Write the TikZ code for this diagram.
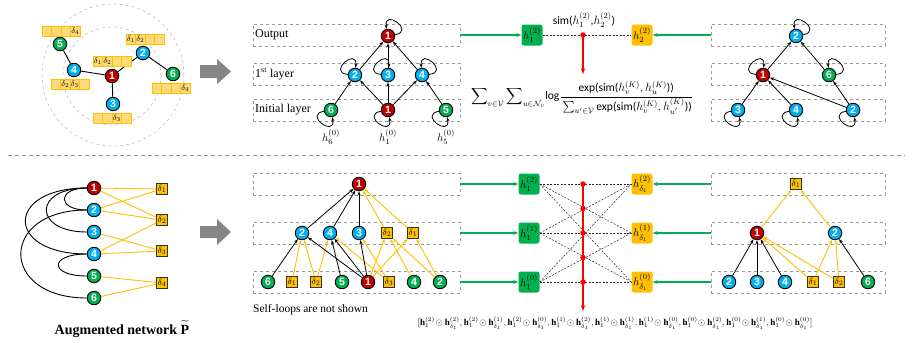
\documentclass[tikz,border=0pt]{standalone}
\usepackage{amsmath,amssymb}
\usepackage{fontspec}
\setmainfont{Liberation Serif}
\newfontfamily\numfont{Liberation Sans}
\newfontfamily\calfont{Carlito}
\usetikzlibrary{arrows.meta}
\definecolor{cred}{HTML}{C00000}
\definecolor{cblue}{HTML}{00B0F0}
\definecolor{cgreen}{HTML}{00B050}
\definecolor{cyel}{HTML}{FFC000}
\definecolor{cbarf}{HTML}{FFD97A}
\newcommand\fbar[7]{%
 \node[cell] (#1a) at (#2+4.75,#3+5) {#4};
 \node[cell] (#1b) at (#2+14.25,#3+5) {#5};
 \node[cell] (#1c) at (#2+23.75,#3+5) {#6};
 \node[cell] (#1d) at (#2+33.25,#3+5) {#7};}
\newcommand\lpp[3]{\draw[bk] (#1.#2) .. controls +(#2:21pt) and +(#3:21pt) .. (#1.#3);}
\begin{document}
\begin{tikzpicture}[x=1pt,y=-1pt,
 nd/.style={circle,draw=black,line width=0.9pt,minimum size=13.5pt,inner sep=0pt,text=white,font=\numfont\bfseries\fontsize{10.5}{10.5}\selectfont},
 rn/.style={nd,fill=cred}, bn/.style={nd,fill=cblue}, gn/.style={nd,fill=cgreen},
 dn/.style={rectangle,draw=black!80,line width=0.8pt,fill=cyel,minimum size=11pt,inner sep=0pt,font=\fontsize{9.5}{9.5}\selectfont},
 lyr/.style={draw=black!40,dashed,line width=0.6pt,minimum height=22pt,inner sep=0pt},
 lyrW/.style={lyr,minimum width=207pt},
 lyrN/.style={lyr,minimum width=174pt},
 bk/.style={-{Stealth[length=4.5pt,width=3.2pt]},line width=0.8pt,black},
 yl/.style={-{Stealth[length=4.5pt,width=3.2pt]},line width=0.9pt,cyel},
 gar/.style={-{Stealth[length=5pt,width=4pt]},line width=1.4pt,cgreen},
 rar/.style={-{Stealth[length=6pt,width=4.5pt]},line width=1.3pt,red},
 dline/.style={black!85,line width=0.5pt,dash pattern=on 2pt off 1.5pt},
 hbox/.style={rounded corners=2.5pt,minimum width=21pt,minimum height=21pt,inner sep=0pt,font=\fontsize{11}{11}\selectfont},
 cell/.style={draw=cyel,fill=cbarf,line width=0.6pt,minimum width=9.5pt,minimum height=10pt,inner sep=0pt,font=\fontsize{8.5}{8.5}\selectfont},
 lab/.style={font=\fontsize{12}{14}\selectfont,anchor=west,inner sep=1pt},
 ln/.style={line width=0.9pt,black},
 yln/.style={line width=0.9pt,cyel},
 rdot/.style={circle,fill=red,inner sep=0pt,minimum size=5.5pt},
 hl/.style={font=\fontsize{11}{13}\selectfont},
]
\useasboundingbox (0,0) rectangle (915,343);
% separator
\coordinate (sepL) at (8,155); \coordinate (sepR) at (905,155);
\draw[gray!80,line width=1pt,dash pattern=on 4pt off 3pt] (sepL) -- (sepR);
% gray block arrows
\fill[gray!95] (200,65) -- (217,65) -- (217,59) -- (231,71.5) -- (217,84) -- (217,78) -- (200,78) -- cycle;
\fill[gray!95] (200,226) -- (217,226) -- (217,219) -- (231,232) -- (217,245) -- (217,238) -- (200,238) -- cycle;

% ---------- top-left ----------
\draw[gray!60,dashed,line width=0.5pt] (113,75) circle (71pt);
\draw[gray!60,dashed,line width=0.5pt] (112,76) circle (49pt);
\node[rn] (a1) at (112,76) {1};
\node[bn] (a2) at (143,53) {2};
\node[bn] (a3) at (113,104) {3};
\node[bn] (a4) at (74,70) {4};
\node[gn] (a5) at (60,44) {5};
\node[gn] (a6) at (173,74) {6};
\draw[ln] (a1)--(a2) (a1)--(a3) (a1)--(a4) (a4)--(a5) (a2)--(a6);
\fbar{b5}{42}{26}{}{}{}{$\delta_4$}
\fbar{b2}{126}{34}{$\delta_1$}{$\delta_2$}{}{}
\fbar{b1}{93}{56}{$\delta_1$}{$\delta_2$}{}{}
\fbar{b4}{51}{79}{}{$\delta_2$}{$\delta_3$}{}
\fbar{b6}{152}{83}{}{}{}{$\delta_4$}
\fbar{b3}{93}{113}{}{}{$\delta_3$}{}

% ---------- top-middle ----------
\node[lyrW] (mr1) at (356.5,35) {};
\node[lyrW] (mr2) at (356.5,74) {};
\node[lyrW] (mr3) at (356.5,110) {};
\node[lab] (tOut) at (254,35) {Output};
\node[lab] (t1st) at (254,74) {1$^{\text{st}}$ layer};
\node[lab] (tIni) at (254,110) {Initial layer};
\node[rn] (mO1) at (388,36) {1};
\node[bn] (mL2) at (355,75) {2};
\node[bn] (mL3) at (388,75) {3};
\node[bn] (mL4) at (422,75) {4};
\node[gn] (mI6) at (331,110) {6};
\node[rn] (mI1) at (388,110) {1};
\node[gn] (mI5) at (446,110) {5};
\draw[bk] (mL2)--(mO1);
\draw[bk] (mL3)--(mO1);
\draw[bk] (mL4)--(mO1);
\draw[bk] (mI6)--(mL2);
\draw[bk] (mI1)--(mL2);
\draw[bk] (mI1)--(mL3);
\draw[bk] (mI1)--(mL4);
\draw[bk] (mI5)--(mL4);
\lpp{mO1}{10}{100}
\lpp{mL2}{175}{85}
\lpp{mL3}{175}{85}
\lpp{mL4}{5}{95}
\lpp{mI6}{190}{280}
\lpp{mI1}{190}{280}
\lpp{mI5}{190}{280}
\node[hl] (h6) at (331,137) {$h_6^{(0)}$};
\node[hl] (h1) at (388,137) {$h_1^{(0)}$};
\node[hl] (h5) at (446,137) {$h_5^{(0)}$};

% ---------- top-center ----------
\node[hbox,fill=cgreen] (tg) at (532,35) {$h_1^{(2)}$};
\node[hbox,fill=cyel] (tor) at (642,35) {$h_2^{(2)}$};
\draw[dline] (tg)--(tor);
\draw[gar] (mr1.east)--(tg);
\node[rdot] (tdot) at (583,35) {};
\coordinate (tend) at (583,74);
\draw[rar] (tdot.center)--(tend);
\node[font=\calfont\fontsize{11.5}{13}\selectfont] (simlab) at (584,20) {sim($h_1^{(2)}$,$h_2^{(2)}$)};
\node[font=\fontsize{11.5}{13}\selectfont] (obj) at (582,98)
 {$\displaystyle\sum\nolimits_{v\in\mathcal{V}}\sum\nolimits_{u\in\mathcal{N}_v}\!\text{\calfont log}\frac{\text{\calfont exp(sim(}h_v^{(K)},h_u^{(K)}\text{\calfont ))}\rule[-3pt]{0pt}{3pt}}{\rule{0pt}{12pt}\textstyle\sum_{u'\in\mathcal{V}}\text{\calfont exp(sim(}h_v^{(K)},h_{u'}^{(K)}\text{\calfont ))}}$};

% ---------- top-right ----------
\node[lyrN] (rr1) at (798,35) {};
\node[lyrN] (rr2) at (798,74) {};
\node[lyrN] (rr3) at (798,110) {};
\draw[gar] (rr1.west)--(tor);
\node[bn] (rT2) at (796,36) {2};
\node[rn] (rL1) at (763,75) {1};
\node[gn] (rL6) at (829,75) {6};
\node[bn] (rB3) at (738,110) {3};
\node[bn] (rB4) at (796,110) {4};
\node[bn] (rB2) at (853,110) {2};
\draw[bk] (rL1)--(rT2);
\draw[bk] (rL6)--(rT2);
\draw[bk] (rB3)--(rL1);
\draw[bk] (rB4)--(rL1);
\draw[bk] (rB2)--(rL1);
\draw[bk] (rB2)--(rL6);
\lpp{rT2}{10}{100}
\lpp{rL1}{175}{85}
\lpp{rL6}{5}{95}
\lpp{rB3}{190}{280}
\lpp{rB4}{190}{280}
\lpp{rB2}{190}{280}

% ---------- bottom-left ----------
\node[rn] (c1) at (94,188) {1};
\node[bn] (c2) at (94,210) {2};
\node[bn] (c3) at (94,232) {3};
\node[bn] (c4) at (94,254) {4};
\node[gn] (c5) at (94,276) {5};
\node[gn] (c6) at (94,298) {6};
\node[dn] (e1) at (162,189) {$\delta_1$};
\node[dn] (e2) at (162,220) {$\delta_2$};
\node[dn] (e3) at (162,251) {$\delta_3$};
\node[dn] (e4) at (162,283) {$\delta_4$};
\draw[yln] (c1)--(e1) (c1)--(e2) (c2)--(e1) (c2)--(e2) (c3)--(e3) (c4)--(e2) (c4)--(e3) (c5)--(e4) (c6)--(e4);
\draw[ln] (c1.west) to[out=180,in=180,distance=30pt] (c2.west);
\draw[ln] (c1.west) to[out=180,in=180,distance=54pt] (c3.west);
\draw[ln] (c1.west) to[out=180,in=180,distance=82pt] (c4.west);
\draw[ln] (c2.west) to[out=180,in=180,distance=88pt] (c6.west);
\draw[ln] (c4.west) to[out=180,in=180,distance=38pt] (c5.west);
\node[font=\bfseries\fontsize{14}{16}\selectfont] (aug) at (122,329) {Augmented network $\widetilde{\mathbf{P}}$};

% ---------- bottom-middle ----------
\node[lyrW] (qr1) at (356.5,184) {};
\node[lyrW] (qr2) at (356.5,233) {};
\node[lyrW] (qr3) at (356.5,282) {};
\node[rn] (qT1) at (359,184) {1};
\node[bn] (qM2) at (302,233) {2};
\node[bn] (qM4) at (330,233) {4};
\node[bn] (qM3) at (359,233) {3};
\node[dn] (qMd2) at (387,233) {$\delta_2$};
\node[dn] (qMd1) at (413,233) {$\delta_1$};
\node[gn] (qB6) at (268,282) {6};
\node[dn] (qBd1) at (292,282) {$\delta_1$};
\node[dn] (qBd2) at (316,282) {$\delta_2$};
\node[gn] (qB5) at (342,282) {5};
\node[rn] (qB1) at (368,282) {1};
\node[dn] (qBd3) at (389,282) {$\delta_3$};
\node[gn] (qB4) at (414,282) {4};
\node[gn] (qB2) at (440,282) {2};
\draw[bk] (qM2)--(qT1);
\draw[bk] (qM4)--(qT1);
\draw[bk] (qM3)--(qT1);
\draw[yl] (qMd2)--(qT1);
\draw[yl] (qMd1)--(qT1);
\draw[yl] (qBd1)--(qM2);
\draw[yl] (qBd2)--(qM2);
\draw[yl] (qBd2)--(qM4);
\draw[yl] (qBd3)--(qM4);
\draw[yl] (qBd3)--(qM3);
\draw[yl] (qB1)--(qMd2);
\draw[yl] (qB1)--(qMd1);
\draw[yl] (qB4)--(qMd2);
\draw[yl] (qB2)--(qMd2);
\draw[yl] (qB2)--(qMd1);
\draw[bk] (qB6)--(qM2);
\draw[bk] (qB5)--(qM4);
\draw[bk] (qB1)--(qM2);
\draw[bk] (qB1)--(qM4);
\draw[bk] (qB1)--(qM3);
\node[font=\fontsize{11.5}{13}\selectfont,anchor=west,inner sep=0pt] (slns) at (253,310) {Self-loops are not shown};

% ---------- bottom-center ----------
\node[hbox,fill=cgreen] (g2) at (529,184) {$h_1^{(2)}$};
\node[hbox,fill=cgreen] (g1) at (529,233) {$h_1^{(1)}$};
\node[hbox,fill=cgreen] (g0) at (529,282) {$h_1^{(0)}$};
\node[hbox,fill=cyel] (o2) at (642,184) {$h_{\delta_1}^{(2)}$};
\node[hbox,fill=cyel] (o1) at (642,233) {$h_{\delta_1}^{(1)}$};
\node[hbox,fill=cyel] (o0) at (642,282) {$h_{\delta_1}^{(0)}$};
\foreach \g in {g2,g1,g0}{\foreach \o in {o2,o1,o0}{\draw[dline] (\g.east)--(\o.west);}}
\draw[gar] (qr1.east)--(g2);
\draw[gar] (qr2.east)--(g1);
\draw[gar] (qr3.east)--(g0);
\coordinate (bend) at (583,311);
\node[rdot] (d1) at (583,184) {};
\draw[rar] (d1.center)--(bend);
\node[rdot] (d2) at (583,208.5) {};
\node[rdot] (d3) at (583,233) {};
\node[rdot] (d4) at (583,257.5) {};
\node[rdot] (d5) at (583,282) {};
\node[font=\fontsize{9}{10}\selectfont] (vec) at (615,323)
 {$[\mathbf{h}_1^{(2)}\!\odot\mathbf{h}_{\delta_1}^{(2)},\mathbf{h}_1^{(2)}\!\odot\mathbf{h}_{\delta_1}^{(1)},\mathbf{h}_1^{(2)}\!\odot\mathbf{h}_{\delta_1}^{(0)},\mathbf{h}_1^{(1)}\!\odot\mathbf{h}_{\delta_1}^{(2)},\mathbf{h}_1^{(1)}\!\odot\mathbf{h}_{\delta_1}^{(1)},\mathbf{h}_1^{(1)}\!\odot\mathbf{h}_{\delta_1}^{(0)},\mathbf{h}_1^{(0)}\!\odot\mathbf{h}_{\delta_1}^{(2)},\mathbf{h}_1^{(0)}\!\odot\mathbf{h}_{\delta_1}^{(1)},\mathbf{h}_1^{(0)}\!\odot\mathbf{h}_{\delta_1}^{(0)}]$};

% ---------- bottom-right ----------
\node[lyrN] (sr1) at (798,184) {};
\node[lyrN] (sr2) at (798,233) {};
\node[lyrN] (sr3) at (798,282) {};
\draw[gar] (sr1.west)--(o2);
\draw[gar] (sr2.west)--(o1);
\draw[gar] (sr3.west)--(o0);
\node[dn] (sT) at (796,184) {$\delta_1$};
\node[rn] (sM1) at (757,233) {1};
\node[bn] (sM2) at (835,233) {2};
\node[bn] (sB2) at (729,282) {2};
\node[bn] (sB3) at (757,282) {3};
\node[bn] (sB4) at (785,282) {4};
\node[dn] (sBd1) at (813,282) {$\delta_1$};
\node[dn] (sBd2) at (839,282) {$\delta_2$};
\node[gn] (sB6) at (868,282) {6};
\draw[yl] (sM1)--(sT);
\draw[yl] (sM2)--(sT);
\draw[bk] (sB2)--(sM1);
\draw[bk] (sB3)--(sM1);
\draw[bk] (sB4)--(sM1);
\draw[yl] (sBd1)--(sM1);
\draw[yl] (sBd2)--(sM1);
\draw[yl] (sBd1)--(sM2);
\draw[yl] (sBd2)--(sM2);
\draw[bk] (sB6)--(sM2);
\end{tikzpicture}
\end{document}
